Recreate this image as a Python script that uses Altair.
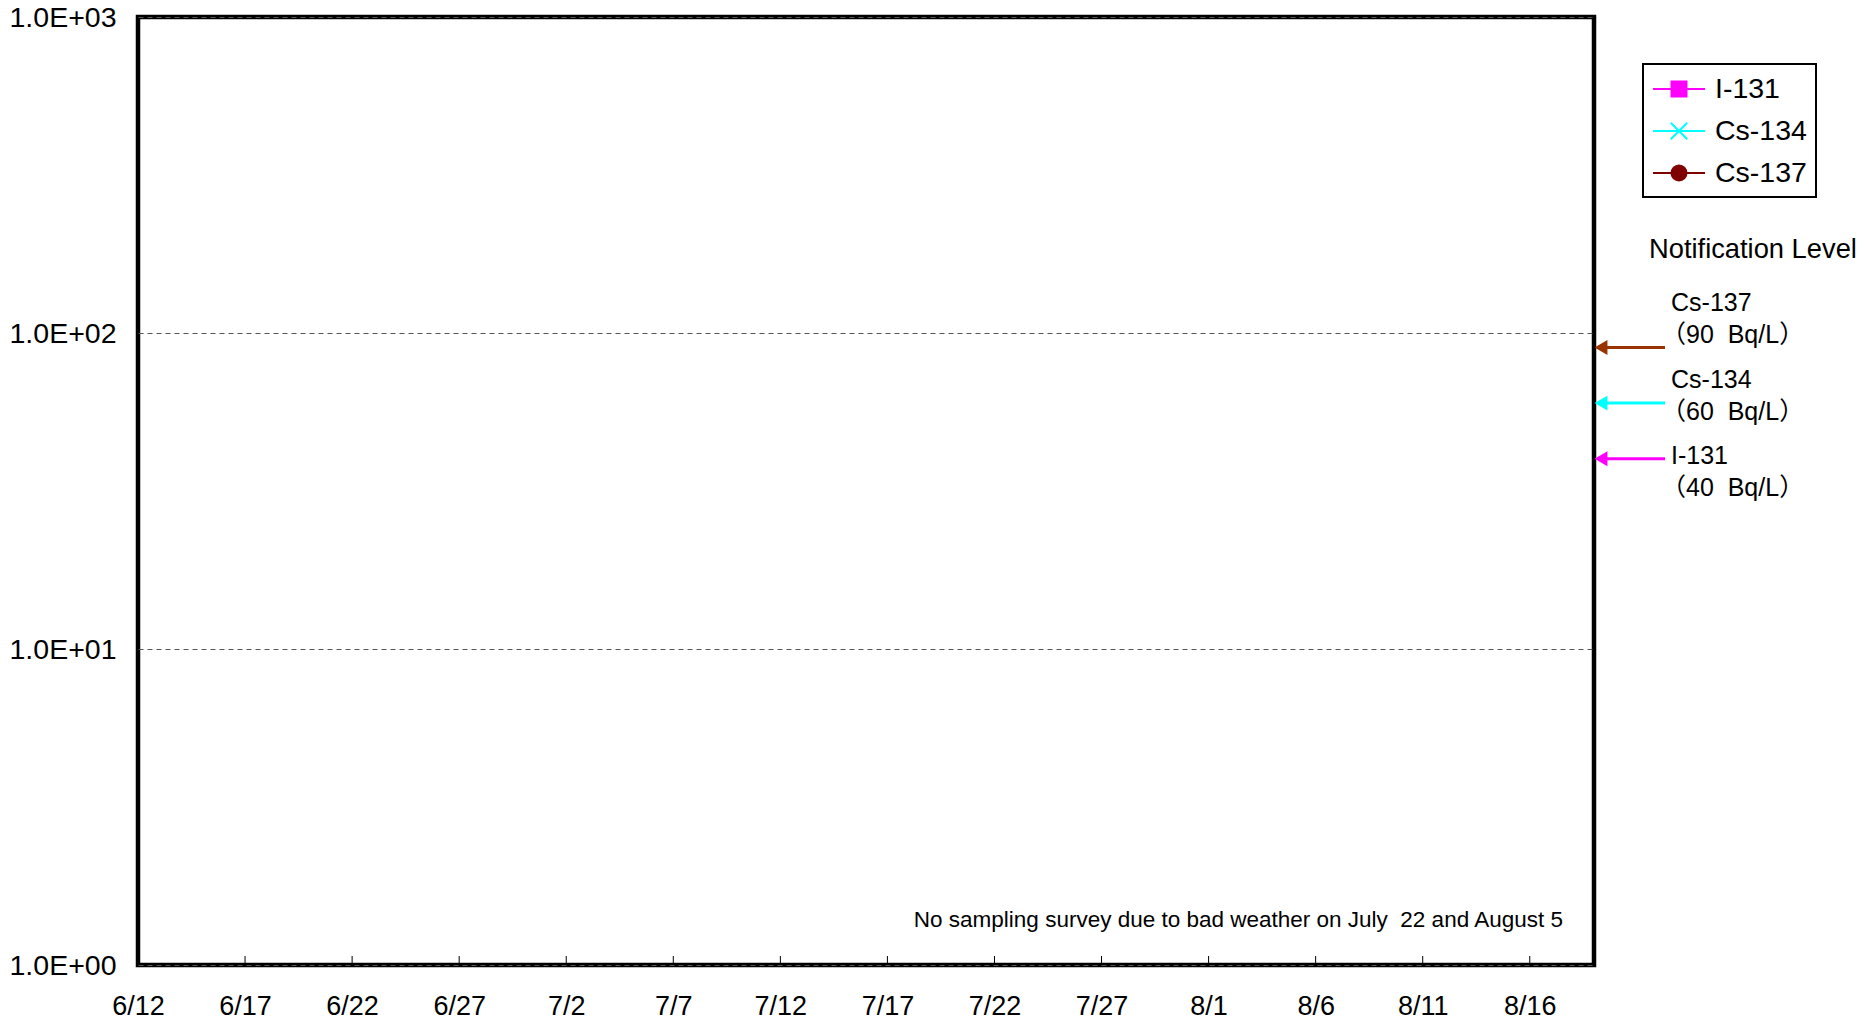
import math
import altair as alt
import pandas as pd

# ---- data -------------------------------------------------------------
nuclides = ["I-131", "Cs-134", "Cs-137"]
series_colors = ["#ff00ff", "#00ffff", "#800000"]


def _circle_path(r, n=16):
    pts = [(r * math.cos(2 * math.pi * k / n), r * math.sin(2 * math.pi * k / n)) for k in range(n)]
    return "M" + "L".join(f"{x:.3f},{y:.3f}" for x, y in pts) + "Z"


# legend marker shapes (line through marker, Excel style)
_stem = "M-1.733,0L1.733,0"
series_shapes = [
    _stem + "M-0.5,-0.5L0.5,-0.5L0.5,0.5L-0.5,0.5Z",
    _stem + "M-0.55,-0.55L0.55,0.55M-0.55,0.55L0.55,-0.55",
    _stem + _circle_path(0.5),
]

# measured values: no detections plotted in the chart
sample_dates = []
sample_nuclides = []
sample_values = []

# notification levels (Bq/L)
level_names = ["Cs-137", "Cs-134", "I-131"]
level_values = [90, 60, 40]
level_colors = ["#993300", "#00ffff", "#ff00ff"]
level_units = ["（90\u00a0 Bq/L）", "（60\u00a0 Bq/L）", "（40\u00a0 Bq/L）"]
level_label_shift = [-44, -23, -3]

x_start = "2011-06-12"
x_end = "2011-08-19"
x_tick_dates = ["2011-06-12", "2011-06-17", "2011-06-22", "2011-06-27", "2011-07-02",
                "2011-07-07", "2011-07-12", "2011-07-17", "2011-07-22", "2011-07-27",
                "2011-08-01", "2011-08-06", "2011-08-11", "2011-08-16"]
inner_tick_dates = x_tick_dates[1:]
y_ticks = [1, 10, 100, 1000]

note_text = "No sampling survey due to bad weather on July\u00a0 22 and August 5"
side_title = "Notification Level"

# ---- layout -------------------------------------------------------------
W, H = 1456, 948
FONT = "Liberation Sans, Arial, Noto Sans CJK JP"


def ms(d):
    return int(pd.Timestamp(d).value // 10**6)


x_scale = alt.Scale(type="utc", domain=[ms(x_start), ms(x_end)])
y_scale = alt.Scale(type="log", domain=[1, 1000])
series_color_scale = alt.Scale(domain=nuclides, range=series_colors)

samples = pd.DataFrame({"date": pd.Series(sample_dates, dtype="object"),
                        "nuclide": pd.Series(sample_nuclides, dtype="object"),
                        "value": pd.Series(sample_values, dtype="float")})

x_axis = alt.Axis(
    values=[ms(d) for d in x_tick_dates],
    labelExpr="utcFormat(datum.value, '%-m/%-d')",
    title=None, domain=False, ticks=False, grid=False,
    labelFlush=False, labelOverlap=False, labelPadding=28,
    labelBaseline="top", labelFontSize=27, labelFont=FONT, labelColor="black",
)
y_axis = alt.Axis(
    values=y_ticks,
    labelExpr="'1.0E+0' + round(log(datum.value) / LN10)",
    title=None, domain=False, ticks=False, grid=True,
    gridDash=[5, 4], gridColor="#555555", gridWidth=1,
    labelPadding=22, labelFontSize=28.5, labelFont=FONT, labelColor="black",
    labelOverlap=False, labelFlush=False,
)

legend = alt.Legend(
    title=None, orient="none", legendX=1505, legendY=47,
    strokeColor="black", padding=9, labelFontSize=28.5, labelFont=FONT, labelColor="black",
    symbolSize=900, symbolStrokeWidth=2, rowPadding=11, labelOffset=20, symbolOffset=11,
)

base = alt.Chart(samples)

lines = base.mark_line(strokeWidth=2).encode(
    x=alt.X("date:T", scale=x_scale, axis=x_axis),
    y=alt.Y("value:Q", scale=y_scale, axis=y_axis),
    color=alt.Color("nuclide:N", scale=series_color_scale, legend=legend),
)

points = base.mark_point(filled=True, opacity=1, size=120).encode(
    x=alt.X("date:T", scale=x_scale),
    y=alt.Y("value:Q", scale=y_scale),
    fill=alt.Fill("nuclide:N", scale=series_color_scale, legend=legend),
    stroke=alt.Stroke("nuclide:N", scale=series_color_scale, legend=legend),
    shape=alt.Shape("nuclide:N", scale=alt.Scale(domain=nuclides, range=series_shapes), legend=legend),
)

ticks = alt.Chart(pd.DataFrame({"d": inner_tick_dates})).mark_rule(color="black", strokeWidth=1).encode(
    x=alt.X("d:T", scale=x_scale),
    y=alt.value(H),
    y2=alt.value(H - 9),
)

levels = pd.DataFrame({"name": level_names, "level": level_values, "color": level_colors,
                       "unit": level_units, "shift": level_label_shift})

arrow_lines = alt.Chart(levels).mark_rule(strokeWidth=3).encode(
    y=alt.Y("level:Q", scale=y_scale),
    x=alt.value(W + 8),
    x2=alt.value(W + 71),
    color=alt.Color("color:N", scale=None),
)
arrow_heads = alt.Chart(levels).mark_point(shape="triangle-left", filled=True, opacity=1, size=220).encode(
    y=alt.Y("level:Q", scale=y_scale),
    x=alt.value(W + 7),
    color=alt.Color("color:N", scale=None),
)

label_layers = []
for nm, sh in zip(level_names, level_label_shift):
    one = alt.Chart(levels).transform_filter(alt.datum.name == nm)
    label_layers.append(
        one.mark_text(align="left", baseline="middle", fontSize=25, font=FONT, color="black", dy=sh)
        .encode(y=alt.Y("level:Q", scale=y_scale), x=alt.value(W + 77), text="name:N")
    )
    label_layers.append(
        one.mark_text(align="left", baseline="middle", fontSize=25, font=FONT, color="black", dy=sh + 32)
        .encode(y=alt.Y("level:Q", scale=y_scale), x=alt.value(W + 67), text="unit:N")
    )

side = alt.Chart(pd.DataFrame({"t": [side_title]})).mark_text(
    align="left", baseline="middle", fontSize=27.3, font=FONT, color="black"
).encode(x=alt.value(W + 55), y=alt.value(233), text="t:N")

note = alt.Chart(pd.DataFrame({"t": [note_text]})).mark_text(
    align="right", baseline="middle", fontSize=22.5, font=FONT, color="black"
).encode(x=alt.value(1425), y=alt.value(903), text="t:N")

chart = alt.layer(lines, points, ticks, arrow_lines, arrow_heads, *label_layers, side, note).properties(
    width=W, height=H,
    padding={"left": 130, "top": 9, "right": 265, "bottom": 50},
    autosize=alt.AutoSizeParams(type="none"),
    background="white",
).configure_view(stroke="black", strokeWidth=4.5).configure_legend(strokeWidth=2)

chart.save("out.html", embed_options={"renderer": "svg", "actions": False})
